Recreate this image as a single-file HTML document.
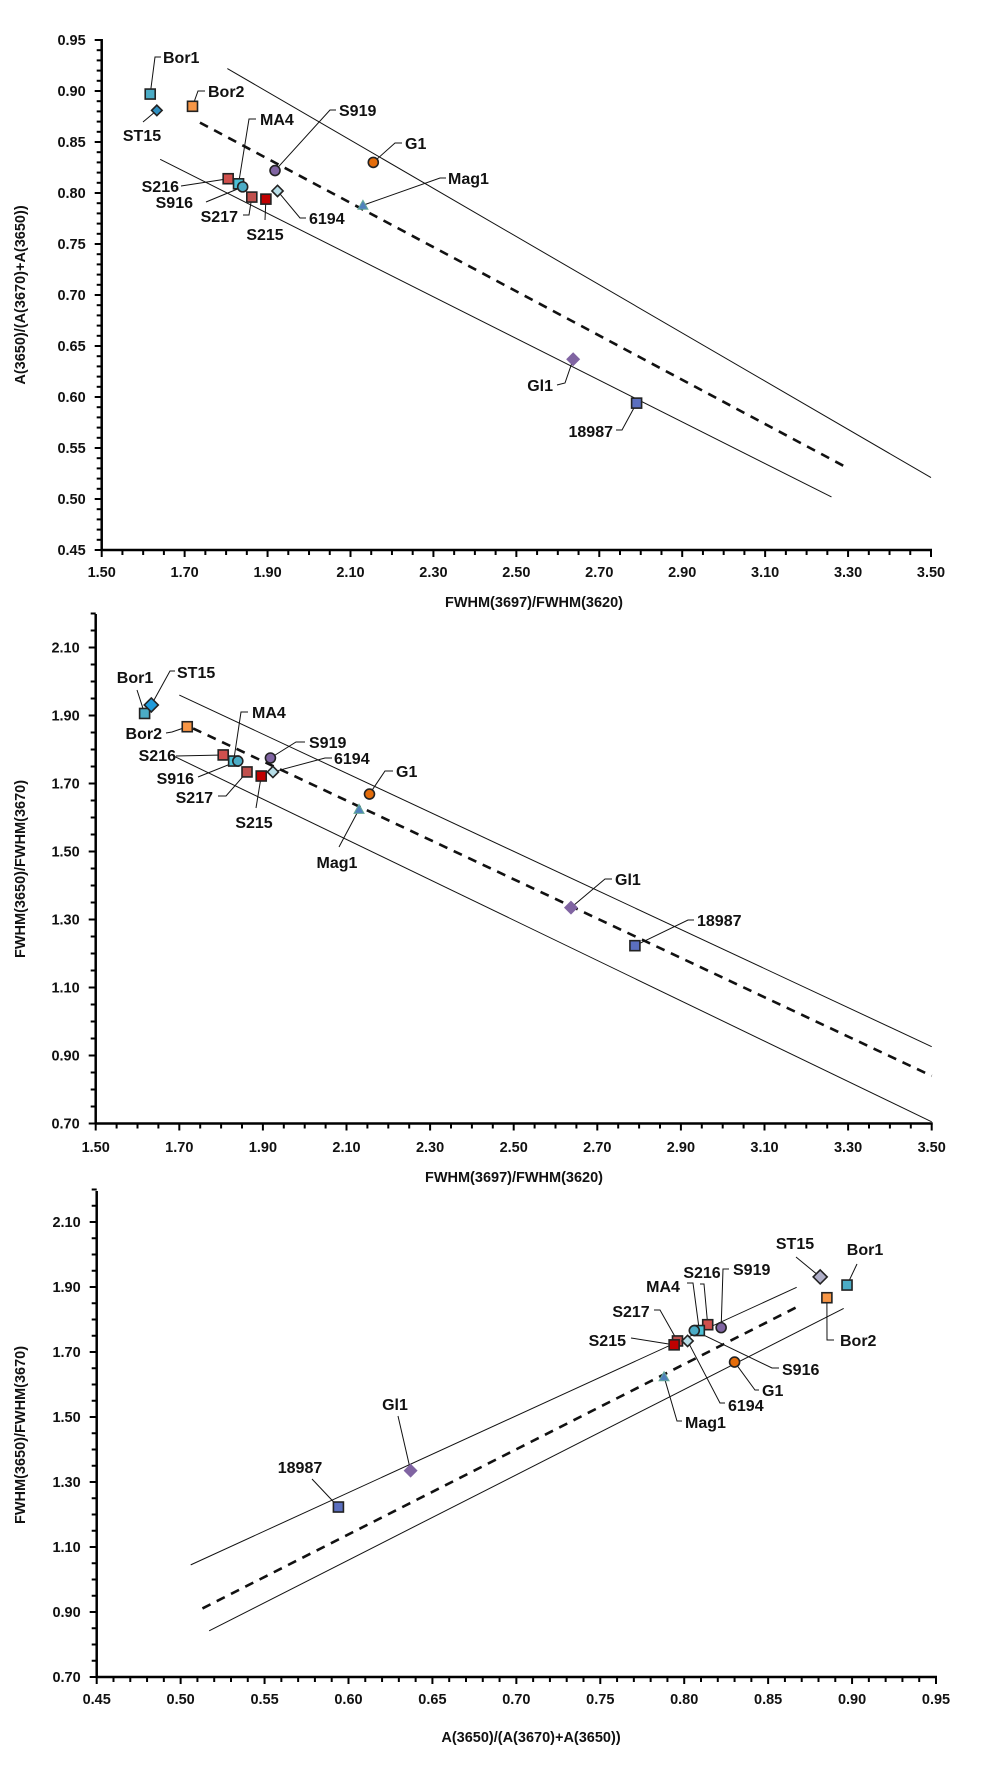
<!DOCTYPE html>
<html><head><meta charset="utf-8">
<style>
html,body{margin:0;padding:0;background:#fff;}
svg{display:block;font-family:"Liberation Sans",sans-serif;}
text{font-weight:bold;fill:#111;}
</style></head>
<body>
<svg id="fig" width="996" height="1775" viewBox="0 0 996 1775" xmlns="http://www.w3.org/2000/svg"></svg>
<script>
// ---- data ----
const sampleNames = ["Bor1","ST15","Bor2","S216","MA4","S916","S217","S215","S919","6194","G1","Mag1","Gl1","18987"];
const fwhmRatio3697 = [1.617,1.633,1.719,1.805,1.830,1.840,1.862,1.896,1.918,1.924,2.155,2.130,2.637,2.790];
const areaRatio3650 = [0.897,0.881,0.885,0.814,0.809,0.806,0.796,0.794,0.822,0.802,0.830,0.788,0.637,0.594];
const fwhmRatio3650 = [1.906,1.931,1.867,1.784,1.766,1.766,1.734,1.722,1.775,1.734,1.669,1.624,1.335,1.223];
const c1TickLabels = ["0.45","0.50","0.55","0.60","0.65","0.70","0.75","0.80","0.85","0.90","0.95"];
const c2TickLabels = ["0.70","0.90","1.10","1.30","1.50","1.70","1.90","2.10"];
const xTickLabelsF = ["1.50","1.70","1.90","2.10","2.30","2.50","2.70","2.90","3.10","3.30","3.50"];
const xTickLabelsA = ["0.45","0.50","0.55","0.60","0.65","0.70","0.75","0.80","0.85","0.90","0.95"];
const c1Upper = [[1.803,3.50],[0.922,0.521]];
const c1Mid = [[1.737,3.296],[0.869,0.531]];
const c1Lower = [[1.641,3.260],[0.833,0.502]];
const c2Upper = [[1.70,3.50],[1.96,0.926]];
const c2Mid = [[1.733,3.50],[1.862,0.840]];
const c2Lower = [[1.686,3.50],[1.781,0.705]];
const c3Upper = [[0.506,0.867],[1.045,1.899]];
const c3Mid = [[0.513,0.867],[0.911,1.838]];
const c3Lower = [[0.517,0.895],[0.842,1.834]];

const NS="http://www.w3.org/2000/svg";
const svg=document.getElementById('fig');
function mk(tag,attrs,parent){const e=document.createElementNS(NS,tag);for(const k in attrs)e.setAttribute(k,attrs[k]);(parent||svg).appendChild(e);return e;}

const mStyle=[
 {s:"sq",f:"#4BACC6"},{s:"di",f:"#2E8FC0",z:0.75},{s:"sq",f:"#F79646"},{s:"sq",f:"#D0504D"},
 {s:"sq",f:"#4BC0D6"},{s:"ci",f:"#4BACC6"},{s:"sq",f:"#C0504D"},{s:"sq",f:"#C00000"},
 {s:"ci",f:"#8064A2"},{s:"di",f:"#B7DEE8",z:0.8},{s:"ci",f:"#E46C0A"},{s:"tr",f:"#4F81BD"},
 {s:"di",f:"#8064A2",nb:1},{s:"sq",f:"#5B6FBF"}];

function marker(g,st,x,y,scale){
  const z=(st.z||1)*scale, stroke=st.nb?"none":"#222";
  if(st.s==="sq") return mk('rect',{x:x-5*z,y:y-5*z,width:10*z,height:10*z,fill:st.f,stroke:stroke,'stroke-width':1.6},g);
  if(st.s==="ci") return mk('circle',{cx:x,cy:y,r:5*z,fill:st.f,stroke:stroke,'stroke-width':1.6},g);
  if(st.s==="di") return mk('polygon',{points:`${x},${y-7*z} ${x+7*z},${y} ${x},${y+7*z} ${x-7*z},${y}`,fill:st.f,stroke:stroke,'stroke-width':1.6},g);
  return mk('polygon',{points:`${x},${y-5} ${x+5},${y+4} ${x-5},${y+4}`,fill:st.f,stroke:"#6a9",'stroke-width':1},g);
}

function drawChart(c){
  const g=mk('g',{});
  
  
  const X=v=>c.x0+(v-c.xmin)/(c.xmax-c.xmin)*(c.x1-c.x0);
  const Y=v=>c.y0-(v-c.ymin)/(c.ymax-c.ymin)*(c.y0-c.y1);
  [[c.upper,'upper-bound-line',false],[c.mid,'regression-line',true],[c.lower,'lower-bound-line',false]].forEach(([L,nm,d])=>{
    const ln=mk('line',{x1:X(L[0][0]),y1:Y(L[1][0]),x2:X(L[0][1]),y2:Y(L[1][1]),stroke:'#111','stroke-width':d?2.6:1,'stroke-dasharray':d?'9 7':'none'},g);
    
    
  });
  const ya=mk('line',{x1:c.x0,y1:c.y0,x2:c.x0,y2:c.yTop,stroke:'#000','stroke-width':2.5},g);
  
  
  const xa=mk('line',{x1:c.x0-1,y1:c.y0,x2:c.x1+1,y2:c.y0,stroke:'#000','stroke-width':2.5},g);
  
  
  for(let v=c.ymin;v<=c.yTopV+1e-9;v+=c.yMinor){
    const major=Math.abs(((v-c.ymin)/c.yMajor)-Math.round((v-c.ymin)/c.yMajor))<1e-6;
    mk('line',{x1:c.x0-(major?7:5),x2:c.x0,y1:Y(v),y2:Y(v),stroke:'#000','stroke-width':2},g);
  }
  c.yLabels.forEach((t,i)=>{
    const tx=mk('text',{x:c.x0-16,y:Y(c.ymin+i*c.yMajor)+5,'text-anchor':'end','font-size':14.5},g);
    tx.textContent=t;
    
    
  });
  for(let v=c.xmin;v<=c.xmax+1e-9;v+=c.xMinor){
    const major=Math.abs(((v-c.xmin)/c.xMajor)-Math.round((v-c.xmin)/c.xMajor))<1e-6;
    mk('line',{x1:X(v),x2:X(v),y1:c.y0,y2:c.y0+(major?7:5),stroke:'#000','stroke-width':2},g);
  }
  c.xLabels.forEach((t,i)=>{
    const tx=mk('text',{x:X(c.xmin+i*c.xMajor),y:c.xLabY+5,'text-anchor':'middle','font-size':14.5},g);
    tx.textContent=t;
    
    
  });
  const xt=mk('text',{x:c.xTitleX,y:c.xTitleY+5,'text-anchor':'middle','font-size':14.5},g);
  xt.textContent=c.xTitle;
  
  
  const yt=mk('text',{x:0,y:0,'text-anchor':'middle','font-size':14.5,transform:`translate(${c.yTitleX},${c.yTitleY}) rotate(-90)`},g);
  yt.textContent=c.yTitle;
  
  
  c.labels.forEach((lb,i)=>{
    const px=X(c.xs[i]),py=Y(c.ys[i]);
    const pts=[[px,py]].concat(lb.l).map(p=>p.join(',')).join(' ');
    const pl=mk('polyline',{points:pts,fill:'none',stroke:'#111','stroke-width':1},g);
    
    
  });
  c.xs.forEach((xv,i)=>{
    const m=marker(g,(c.styles&&c.styles[i])||mStyle[i],X(xv),Y(c.ys[i]),1);
    
    
  });
  c.labels.forEach((lb,i)=>{
    const tx=mk('text',{x:lb.t[0],y:lb.t[1]+6,'text-anchor':lb.a,'font-size':16},g);
    tx.textContent=sampleNames[i];
    
    
  });
}

const S="start",E="end",M="middle";
drawChart({name:'chart-area-vs-fwhm3697',x0:101.7,x1:931,xmin:1.5,xmax:3.5,y0:550,y1:40,ymin:0.45,ymax:0.95,yTop:39,yTopV:0.95,
  yMajor:0.05,yMinor:0.01,xMajor:0.2,xMinor:0.05,yLabels:c1TickLabels,xLabels:xTickLabelsF,xLabY:572,
  xTitle:'FWHM(3697)/FWHM(3620)',xTitleX:534,xTitleY:602,yTitle:'A(3650)/(A(3670)+A(3650))',yTitleX:25,yTitleY:295,
  xs:fwhmRatio3697,ys:areaRatio3650,upper:c1Upper,mid:c1Mid,lower:c1Lower,
  labels:[
   {t:[163,57],a:S,l:[[155,57],[161,57]]},
   {t:[142,135],a:M,l:[[143,122]]},
   {t:[208,91],a:S,l:[[198,91],[205,91]]},
   {t:[179,186],a:E,l:[[181,186]]},
   {t:[260,119],a:S,l:[[249,119],[256,119]]},
   {t:[193,202],a:E,l:[[206,202]]},
   {t:[238,216],a:E,l:[[249,215],[243,215]]},
   {t:[265,234],a:M,l:[[265,220]]},
   {t:[339,110],a:S,l:[[330,110],[336,110]]},
   {t:[309,218],a:S,l:[[300,218],[306,218]]},
   {t:[405,143],a:S,l:[[395,143],[402,143]]},
   {t:[448,178],a:S,l:[[440,178],[446,178]]},
   {t:[553,385],a:E,l:[[565,383],[557,385]]},
   {t:[613,431],a:E,l:[[622,430],[616,430]]}
  ]});

drawChart({name:'chart-fwhm3650-vs-fwhm3697',x0:95.7,x1:931.7,xmin:1.5,xmax:3.5,y0:1123.5,y1:1123.5-510,ymin:0.7,ymax:2.2,yTop:614,yTopV:2.2,
  yMajor:0.2,yMinor:0.05,xMajor:0.2,xMinor:0.05,yLabels:c2TickLabels,xLabels:xTickLabelsF,xLabY:1147,
  xTitle:'FWHM(3697)/FWHM(3620)',xTitleX:514,xTitleY:1177,yTitle:'FWHM(3650)/FWHM(3670)',yTitleX:25,yTitleY:869,
  xs:fwhmRatio3697,ys:fwhmRatio3650,upper:c2Upper,mid:c2Mid,lower:c2Lower,
  styles:mStyle.map((s,i)=>i===1?{s:"di",f:"#1F9BDB",z:1}:s),
  labels:[
   {t:[135,677],a:M,l:[[137,690]]},
   {t:[177,672],a:S,l:[[170,671],[175,671]]},
   {t:[162,733],a:E,l:[[172,732],[166,733]]},
   {t:[176,755],a:E,l:[[176,756]]},
   {t:[252,712],a:S,l:[[241,712],[248,712]]},
   {t:[194,778],a:E,l:[[198,777]]},
   {t:[213,797],a:E,l:[[226,796],[218,796]]},
   {t:[254,822],a:M,l:[[256,808]]},
   {t:[309,742],a:S,l:[[296,742],[305,742]]},
   {t:[334,758],a:S,l:[[325,758],[332,758]]},
   {t:[396,771],a:S,l:[[385,771],[393,771]]},
   {t:[337,862],a:M,l:[[339,847]]},
   {t:[615,879],a:S,l:[[605,879],[612,879]]},
   {t:[697,920],a:S,l:[[688,920],[694,920]]}
  ]});

drawChart({name:'chart-fwhm3650-vs-area',x0:96.7,x1:936,xmin:0.45,xmax:0.95,y0:1677,y1:1677-487.5,ymin:0.7,ymax:2.2,yTop:1191,yTopV:2.2,
  yMajor:0.2,yMinor:0.05,xMajor:0.05,xMinor:0.01,yLabels:c2TickLabels,xLabels:xTickLabelsA,xLabY:1699,
  xTitle:'A(3650)/(A(3670)+A(3650))',xTitleX:531,xTitleY:1737,yTitle:'FWHM(3650)/FWHM(3670)',yTitleX:25,yTitleY:1435,
  xs:areaRatio3650,ys:fwhmRatio3650,upper:c3Upper,mid:c3Mid,lower:c3Lower,
  styles:mStyle.map((s,i)=>i===1?{s:"di",f:"#B0AFC8",z:1}:s),
  labels:[
   {t:[865,1249],a:M,l:[[857,1264]]},
   {t:[795,1243],a:M,l:[[796,1257]]},
   {t:[840,1340],a:S,l:[[827,1340],[834,1340]]},
   {t:[702,1272],a:M,l:[[704,1284],[700,1284]]},
   {t:[663,1286],a:M,l:[[693,1283],[687,1283]]},
   {t:[782,1369],a:S,l:[[772,1368],[779,1368]]},
   {t:[631,1311],a:M,l:[[660,1310],[654,1310]]},
   {t:[626,1340],a:E,l:[[631,1338]]},
   {t:[733,1269],a:S,l:[[723,1269],[729,1269]]},
   {t:[728,1405],a:S,l:[[720,1403],[725,1403]]},
   {t:[762,1390],a:S,l:[[755,1390],[759,1390]]},
   {t:[685,1422],a:S,l:[[677,1421],[682,1421]]},
   {t:[395,1404],a:M,l:[[398,1416]]},
   {t:[300,1467],a:M,l:[[312,1479]]}
  ]});
</script>
</body></html>
